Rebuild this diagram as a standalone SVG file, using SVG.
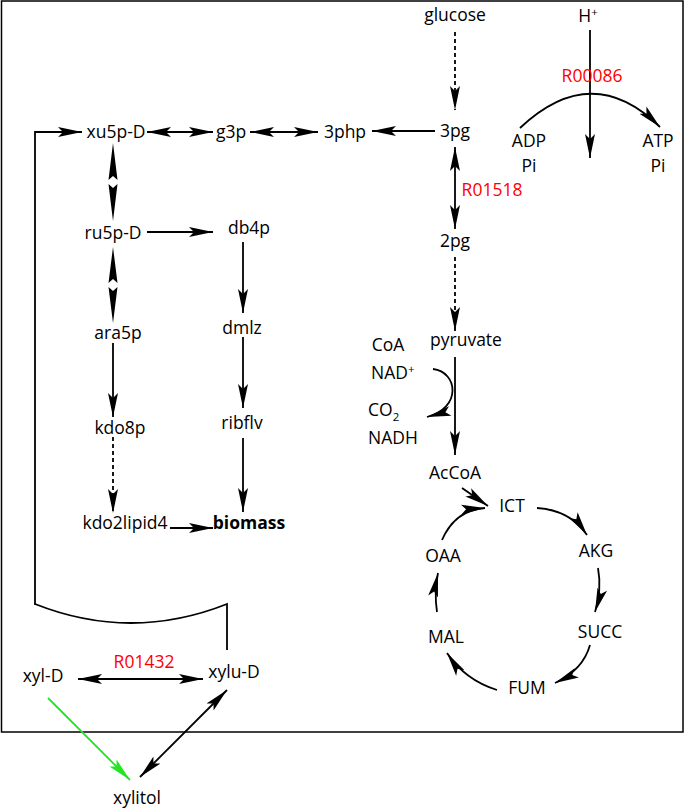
<svg xmlns="http://www.w3.org/2000/svg" width="685" height="808" viewBox="0 0 685 808">
<style>
text{font-family:"Open Sans","Noto Sans","Liberation Sans",sans-serif;font-size:17.5px;fill:#000;text-anchor:middle}
.r{fill:#ff0000}
.s{text-anchor:start}
.b{font-weight:bold}
.c{fill:none;stroke:#000;stroke-width:1.8}
.d{stroke-dasharray:4 3}
.a{marker-end:url(#ah)}
.aa{marker-start:url(#ah);marker-end:url(#ah)}
</style>
<defs>
<marker id="ah" markerUnits="userSpaceOnUse" markerWidth="26" markerHeight="12" refX="24" refY="6" orient="auto-start-reverse" viewBox="0 0 26 12">
<path d="M0,1 L24,6 L0,11 L5,6 z" fill="#000"/>
</marker>
<marker id="ahg" markerUnits="userSpaceOnUse" markerWidth="26" markerHeight="12" refX="24" refY="6" orient="auto" viewBox="0 0 26 12">
<path d="M0,1 L24,6 L0,11 L5,6 z" fill="#22e622"/>
</marker>
</defs>
<rect x="1.5" y="1" width="681.5" height="731" fill="none" stroke="#000" stroke-width="1.5"/>
<g id="connectors">
<path class="c d a" d="M455,32 L455,110"/>
<path class="c a" d="M590,30 L590,158"/>
<path class="c a" d="M520,128 Q592,60 660,127"/>
<path class="c a" d="M435,131 L372,131"/>
<path class="c aa" d="M455,147 L455,229"/>
<path class="c d a" d="M455,257 L455,331"/>
<path class="c a" d="M455,357 L455,455"/>
<path class="c a" d="M433,369 C458,372 462,408 427,417"/>
<path class="c a" d="M462,488 L488,506"/>
<path class="c a" d="M537,508 Q570,510 587,535"/>
<path class="c a" d="M598,568 Q602,590 595,612"/>
<path class="c a" d="M590,645 Q583,670 555,683"/>
<path class="c a" d="M497,690 Q465,680 447,653"/>
<path class="c a" d="M437,612 Q434,592 438,573"/>
<path class="c a" d="M442,540 Q455,510 485,508"/>
<path class="c a" d="M35,605 L35,132 L82,132"/>
<path class="c" d="M35,604 Q131,642 227,604 L227,650"/>
<path class="c aa" d="M147,132 L213,132"/>
<path class="c aa" d="M250,132 L318,132"/>
<polygon points="113,143 117.5,180 113,176 108.5,180" fill="#000"/>
<polygon points="113,221 117.5,184 113,188 108.5,184" fill="#000"/>
<path class="c a" d="M147,232 L213,232"/>
<path class="c a" d="M243,242 L243,313"/>
<path class="c a" d="M243,337 L243,408"/>
<path class="c a" d="M243,438 L243,512"/>
<polygon points="113,247 117.5,283 113,279 108.5,283" fill="#000"/>
<polygon points="113,323 117.5,287 113,291 108.5,287" fill="#000"/>
<path class="c a" d="M113,343 L113,417"/>
<path class="c d a" d="M113,437 L113,513"/>
<path class="c a" d="M170,528 L213,528"/>
<path class="c aa" d="M78,679 L203,679"/>
<path fill="none" stroke="#22e622" stroke-width="1.8" marker-end="url(#ahg)" d="M48,698 L130,780"/>
<path class="c aa" d="M140,777 L227,690"/>
</g>
<g id="glucose"><text x="455" y="21">glucose</text></g>
<g id="Hplus"><text x="588" y="22">H<tspan font-size="11.5" dy="-6">+</tspan></text></g>
<g id="R00086"><text class="r" x="592" y="82">R00086</text></g>
<g id="n3pg"><text x="455" y="137">3pg</text></g>
<g id="ADP"><text x="529" y="147">ADP</text><text x="529" y="172">Pi</text></g>
<g id="ATP"><text x="658" y="147">ATP</text><text x="658" y="172">Pi</text></g>
<g id="R01518"><text class="r" x="492" y="196">R01518</text></g>
<g id="n2pg"><text x="455" y="247">2pg</text></g>
<g id="pyruvate"><text x="466" y="346">pyruvate</text></g>
<g id="cofactors">
<text x="388" y="351">CoA</text>
<text class="s" x="371" y="379">NAD<tspan font-size="11.5" dy="-6">+</tspan></text>
<text class="s" x="368" y="416">CO<tspan font-size="11.5" dy="5">2</tspan></text>
<text class="s" x="368" y="444">NADH</text>
</g>
<g id="AcCoA"><text x="455" y="479">AcCoA</text></g>
<g id="ICT"><text x="512" y="512">ICT</text></g>
<g id="AKG"><text x="596" y="557">AKG</text></g>
<g id="SUCC"><text x="600" y="638">SUCC</text></g>
<g id="FUM"><text x="527" y="694">FUM</text></g>
<g id="MAL"><text x="446" y="643">MAL</text></g>
<g id="OAA"><text x="443" y="562">OAA</text></g>
<g id="xu5p-D"><text x="116" y="138">xu5p-D</text></g>
<g id="g3p"><text x="231" y="138">g3p</text></g>
<g id="n3php"><text x="345" y="138">3php</text></g>
<g id="ru5p-D"><text x="113" y="239">ru5p-D</text></g>
<g id="db4p"><text x="249" y="234">db4p</text></g>
<g id="dmlz"><text x="242" y="334">dmlz</text></g>
<g id="ribflv"><text x="242" y="429">ribflv</text></g>
<g id="biomass"><text class="b" x="249" y="529">biomass</text></g>
<g id="ara5p"><text x="118" y="339">ara5p</text></g>
<g id="kdo8p"><text x="120" y="434">kdo8p</text></g>
<g id="kdo2lipid4"><text x="125" y="529">kdo2lipid4</text></g>
<g id="xyl-D"><text x="43" y="682">xyl-D</text></g>
<g id="R01432"><text class="r" x="144" y="668">R01432</text></g>
<g id="xylu-D"><text x="234" y="678">xylu-D</text></g>
<g id="xylitol"><text x="137" y="804">xylitol</text></g>
</svg>
